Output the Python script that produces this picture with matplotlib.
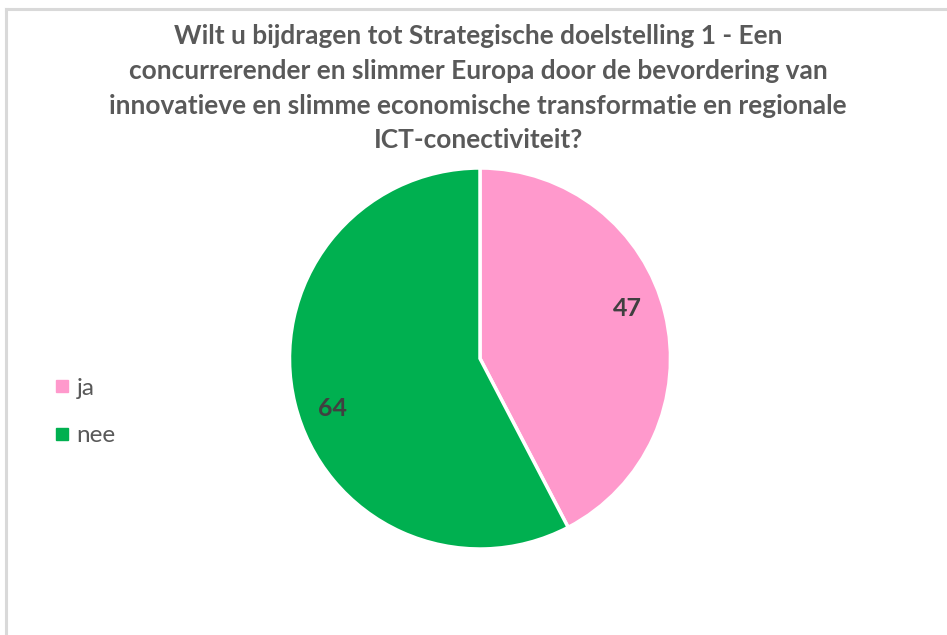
import matplotlib
matplotlib.use('Agg')
import matplotlib.pyplot as plt
import numpy as np
from matplotlib.lines import Line2D

# chart data
categories = ['ja', 'nee']
counts = [47, 64]
colors = ['#FF99CC', '#00B050']

title = ('Wilt u bijdragen tot Strategische doelstelling 1 - Een\n'
         'concurrerender en slimmer Europa door de bevordering van\n'
         'innovatieve en slimme economische transformatie en regionale\n'
         'ICT-conectiviteit?')

plt.rcParams['font.family'] = ['Lato', 'DejaVu Sans']

W, H = 947, 635
fig = plt.figure(figsize=(W / 100, H / 100), dpi=100)
fig.patch.set_facecolor('white')

# grey frame of the chart area (top and left edges visible)
fig.add_artist(Line2D([6 / W, 6 / W], [0, 1 - 9 / H], color='#d9d9d9', lw=2.2,
                      transform=fig.transFigure))
fig.add_artist(Line2D([6 / W, 1], [1 - 9 / H, 1 - 9 / H], color='#d9d9d9', lw=2.2,
                      transform=fig.transFigure))

# pie axes: center (480, 358), radius 190 px
cx, cy, r = 480, 358.5, 190.5
ax = fig.add_axes([(cx - r) / W, 1 - (cy + r) / H, 2 * r / W, 2 * r / H])
wedges, texts, autotexts = ax.pie(
    counts, colors=colors, startangle=90, counterclock=False,
    autopct=lambda p: f'{round(p * sum(counts) / 100):d}', pctdistance=0.82,
    wedgeprops=dict(edgecolor='white', linewidth=2.5),
    textprops=dict(fontsize=18, fontweight='bold', color='#404040'))
# Excel's best-fit places the labels a bit counter-clockwise of the middle
for t in autotexts:
    x, y = t.get_position()
    a = np.arctan2(y, x) + np.radians(5)
    d = np.hypot(x, y)
    t.set_position((d * np.cos(a), d * np.sin(a)))
ax.set_aspect('equal')
ax.set_xlim(-1, 1)
ax.set_ylim(-1, 1)

fig.text(478 / W, 1 - 24 / H, title, ha='center', va='top', fontsize=18.9,
         fontweight='bold', color='#595959', linespacing=1.54)

handles = [Line2D([], [], marker='s', linestyle='', markersize=8,
                  markerfacecolor=c, markeredgecolor=c) for c in colors]
fig.legend(handles, categories, loc='center left',
           bbox_to_anchor=(28 / W, 1 - 412 / H), frameon=False, fontsize=17.5,
           labelcolor='#595959', handletextpad=0.1, labelspacing=1.1,
           handlelength=1.0)

fig.savefig('out.png', dpi=100, facecolor='white')
